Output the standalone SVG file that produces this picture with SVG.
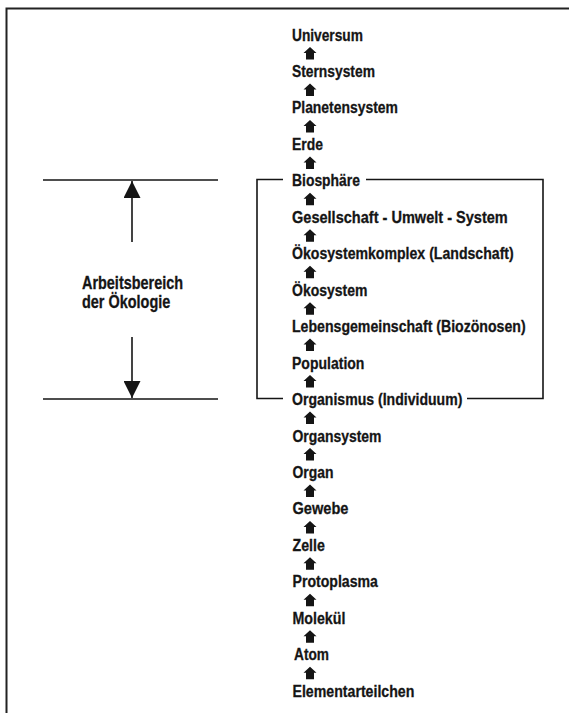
<svg xmlns="http://www.w3.org/2000/svg" xmlns:xlink="http://www.w3.org/1999/xlink" width="569" height="713" viewBox="0 0 569 713">
<style>
.t{font-family:"Liberation Sans",Arial,sans-serif;font-weight:bold;font-size:17px;fill:#151515;stroke:#151515;stroke-width:0.3}
.l{font-size:17.5px}
.ln{stroke:#151515;stroke-width:1.6;fill:none}
.fr{stroke:#222;stroke-width:2;fill:none}
</style>
<defs>
<path id="ua" d="M0,0 L6.5,6 L4,6 L4,12.5 L-4,12.5 L-4,6 L-6.5,6 Z" fill="#151515"/>
<marker id="ah" viewBox="0 0 10 10" refX="10" refY="5" markerWidth="17" markerHeight="17" markerUnits="userSpaceOnUse" orient="auto">
<path d="M0,0 L10,5 L0,10 Z" fill="#151515"/>
</marker>
</defs>
<rect width="569" height="713" fill="#fff"/>
<path class="fr" d="M6.5,713 V8.5 H569"/>
<g id="n0"><text class="t" transform="translate(292,40.5) scale(0.808,1)">Universum</text></g>
<g id="n1"><text class="t" transform="translate(292,77) scale(0.813,1)">Sternsystem</text></g>
<g id="n2"><text class="t" transform="translate(292,113.4) scale(0.819,1)">Planetensystem</text></g>
<g id="n3"><text class="t" transform="translate(292,149.9) scale(0.82,1)">Erde</text></g>
<g id="n4"><text class="t" transform="translate(292,186.3) scale(0.818,1)">Biosphäre</text></g>
<g id="n5"><text class="t" transform="translate(292,222.8) scale(0.856,1)">Gesellschaft - Umwelt - System</text></g>
<g id="n6"><text class="t" transform="translate(292,259.2) scale(0.83,1)">Ökosystemkomplex (Landschaft)</text></g>
<g id="n7"><text class="t" transform="translate(292,295.7) scale(0.824,1)">Ökosystem</text></g>
<g id="n8"><text class="t" transform="translate(292,332.1) scale(0.831,1)">Lebensgemeinschaft (Biozönosen)</text></g>
<g id="n9"><text class="t" transform="translate(292,368.6) scale(0.825,1)">Population</text></g>
<g id="n10"><text class="t" transform="translate(292,405) scale(0.828,1)">Organismus (Individuum)</text></g>
<g id="n11"><text class="t" transform="translate(292.5,441.5) scale(0.819,1)">Organsystem</text></g>
<g id="n12"><text class="t" transform="translate(292.5,477.9) scale(0.819,1)">Organ</text></g>
<g id="n13"><text class="t" transform="translate(292.5,514.4) scale(0.859,1)">Gewebe</text></g>
<g id="n14"><text class="t" transform="translate(292.5,550.8) scale(0.834,1)">Zelle</text></g>
<g id="n15"><text class="t" transform="translate(292.5,587.3) scale(0.83,1)">Protoplasma</text></g>
<g id="n16"><text class="t" transform="translate(292.5,623.7) scale(0.837,1)">Molekül</text></g>
<g id="n17"><text class="t" transform="translate(294,660.2) scale(0.806,1)">Atom</text></g>
<g id="n18"><text class="t" transform="translate(292.5,696.6) scale(0.833,1)">Elementarteilchen</text></g>
<g id="label"><text class="t l" transform="translate(82,289) scale(0.825,1)">Arbeitsbereich</text><text class="t l" transform="translate(82,308) scale(0.827,1)">der Ökologie</text></g>
<g id="connectors">
<use xlink:href="#ua" x="310" y="47"/>
<use xlink:href="#ua" x="310" y="83.5"/>
<use xlink:href="#ua" x="310" y="119.9"/>
<use xlink:href="#ua" x="310" y="156.4"/>
<use xlink:href="#ua" x="310" y="192.8"/>
<use xlink:href="#ua" x="310" y="229.3"/>
<use xlink:href="#ua" x="310" y="265.7"/>
<use xlink:href="#ua" x="310" y="302.2"/>
<use xlink:href="#ua" x="310" y="338.6"/>
<use xlink:href="#ua" x="310" y="375.1"/>
<use xlink:href="#ua" x="310" y="411.5"/>
<use xlink:href="#ua" x="310" y="448"/>
<use xlink:href="#ua" x="310" y="484.4"/>
<use xlink:href="#ua" x="310" y="520.9"/>
<use xlink:href="#ua" x="310" y="557.3"/>
<use xlink:href="#ua" x="310" y="593.8"/>
<use xlink:href="#ua" x="310" y="630.2"/>
<use xlink:href="#ua" x="310" y="666.7"/>
<path class="ln" d="M366,179.5 H543 V398.5 H467"/>
<path class="ln" d="M283,179.5 H257 V398.5 H283"/>
<path class="ln" d="M43,180 H218 M43,399 H218"/>
<path class="ln" d="M132,242 V181" marker-end="url(#ah)"/>
<path class="ln" d="M132,337 V398" marker-end="url(#ah)"/>
</g>
</svg>
